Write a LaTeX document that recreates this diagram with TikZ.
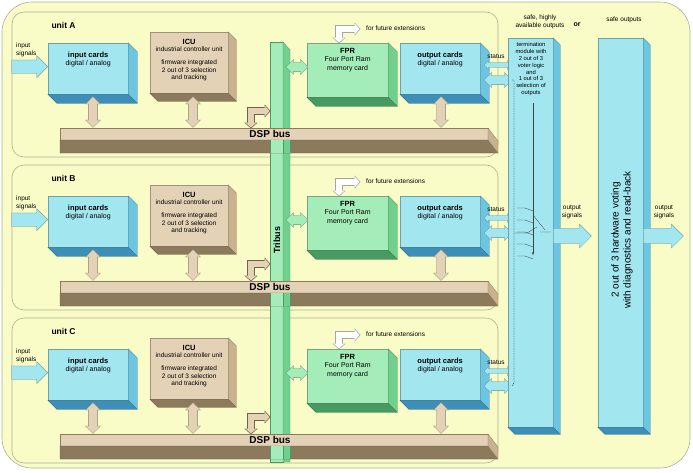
\documentclass[tikz,border=0pt]{standalone}
\usepackage{fontspec}
\setmainfont{Liberation Sans}
\usetikzlibrary{shapes.arrows,arrows.meta,calc}
\definecolor{bgY}{HTML}{FAFCC8}
\definecolor{bordG}{HTML}{A9B394}
\definecolor{bluF}{HTML}{A2E6F0}
\definecolor{bluS}{HTML}{6CC6E2}
\definecolor{bluB}{HTML}{3D8FB8}
\definecolor{tanF}{HTML}{E3D2B6}
\definecolor{tanS}{HTML}{C9B290}
\definecolor{tanB}{HTML}{8C7A5C}
\definecolor{grnF}{HTML}{A4EDB8}
\definecolor{grnS}{HTML}{72D08E}
\definecolor{grnB}{HTML}{479A62}
\newcommand\mysides[5]{%
 \fill[#3,draw=#3!70!black,line width=.3pt] (#1.north east) -- (#1.south east) -- ++(#2,#2) -- ($(#1.north east)+(#2,#2)$) -- cycle;
 \fill[#4,draw=#4!70!black,line width=.3pt] (#1.south west) -- (#1.south east) -- ++(#2,#2) -- ($(#1.south west)+(#2,#2)$) -- cycle;}
\begin{document}
\begin{tikzpicture}[x=1pt,y=-1pt,
 panel/.style={draw=bordG,line width=.6pt,rounded corners=12pt},
 face/.style={draw=#1!70!black,line width=.3pt,fill=#1,inner sep=0pt,align=center,anchor=north west,font=\fontsize{7}{8.2}\selectfont},
 darr/.style={double arrow,draw=#1!60!black,fill=#1,line width=.3pt,double arrow head extend=3pt,minimum width=15pt,inner sep=4pt},
 sarr/.style={single arrow,draw=#1!60!black,fill=#1,line width=.3pt,single arrow head extend=4pt,minimum width=24pt,inner sep=7pt},
 lbl/.style={font=\fontsize{6.5}{7.5}\selectfont,align=center,inner sep=0pt}]
\useasboundingbox (0,0) rectangle (693,472);
\fill[white] (0,0) rectangle (693,472);
\draw[panel,fill=bgY,rounded corners=30pt] (2,2) rectangle (690,468);
\foreach \o/\u in {0/A,153/B,306/C}{
 \draw[panel] (12,12+\o) rectangle (498,157+\o);
 \node[anchor=west,font=\bfseries\fontsize{8.5}{9}\selectfont] (lab\u) at (48,25+\o) {unit \u};
}
% tribus
\fill[grnF,draw=grnB,line width=.3pt] (270,42) rectangle (283,462);
\fill[grnS,draw=grnB,line width=.3pt] (283,42) -- (290,50) -- (290,462) -- (283,462) -- cycle;
\node[rotate=90,font=\bfseries\fontsize{9}{10}\selectfont] (tribus) at (277,240) {Tribus};
\foreach \o/\u in {0/A,153/B,306/C}{
 % input signals
 \node[lbl,anchor=west,align=left] (isig\u) at (16,50+\o) {input\\signals};
 \node[face=bluF,minimum width=80pt,minimum height=51pt] (in\u) at (48,43+\o) {};
 \mysides{in\u}{9}{bluS}{bluB}{}
 \node[font=\bfseries\fontsize{7.5}{9}\selectfont,align=center] at ($(in\u.north)+(0,17)$) {input cards\\[-1pt]\mdseries\fontsize{7}{8}\selectfont digital / analog};
 \node[sarr=bluF,minimum height=36pt,minimum width=22pt,inner sep=6pt,anchor=tip] (ia\u) at ($(in\u.west)+(0,-2)$) {};
 % ICU
 \node[face=tanF,minimum width=78pt,minimum height=61pt] (icu\u) at (150,32+\o) {};
 \mysides{icu\u}{8}{tanS}{tanB}{}
 \node[lbl,font=\fontsize{6.5}{7.6}\selectfont] at ($(icu\u.north)+(0,28)$) {\textbf{\fontsize{7.5}{8}\selectfont ICU}\\industrial controller unit\\[5pt]firmware integrated\\2 out of 3 selection\\and tracking};
 % FPR
 \node[face=grnF,minimum width=81pt,minimum height=54pt] (fpr\u) at (307,43+\o) {};
 \mysides{fpr\u}{9}{grnS}{grnB}{}
 \node[lbl,font=\fontsize{7}{8.2}\selectfont] at ($(fpr\u.north)+(0,17)$) {\textbf{\fontsize{7.5}{8}\selectfont FPR}\\Four Port Ram\\memory card};
 % output cards
 \node[face=bluF,minimum width=80pt,minimum height=51pt] (out\u) at (400,43+\o) {};
 \mysides{out\u}{9}{bluS}{bluB}{}
 \node[font=\bfseries\fontsize{7.5}{9}\selectfont,align=center] at ($(out\u.north)+(0,17)$) {output cards\\[-1pt]\mdseries\fontsize{7}{8}\selectfont digital / analog};
 % DSP bus
 \fill[tanF,draw=tanB,line width=.3pt] (60,128+\o) rectangle (488,140+\o);
 \fill[tanB,draw=tanB!70!black,line width=.3pt] (60,140+\o) -- (488,140+\o) -- (498,153+\o) -- (60,153+\o) -- cycle;
 \fill[tanS,draw=tanB,line width=.3pt] (488,128+\o) -- (498,141+\o) -- (498,153+\o) -- (488,140+\o) -- cycle;
 \node[font=\bfseries\fontsize{10}{11}\selectfont] (dsp\u) at (270,134+\o) {DSP bus};
 \fill[grnF] (270,140+\o) rectangle (283,153+\o);
 \fill[grnS] (283,140+\o) rectangle (290,153+\o);
 \draw[grnB,line width=.3pt] (270,140+\o) -- (270,153+\o) (283,140+\o) -- (283,153+\o) (290,140+\o) -- (290,153+\o);
 % vertical arrows
 \node[darr=tanF,rotate=90,minimum height=31pt] (a1\u) at (93,112+\o) {};
 \node[darr=tanF,rotate=90,minimum height=31pt] (a2\u) at (193,112+\o) {};
 \node[darr=tanF,rotate=90,minimum height=31pt] (a3\u) at (441,112+\o) {};
 \node[darr=grnF,minimum height=22pt] (a4\u) at (297,67+\o) {};
 % bent arrow bus-tribus
 \draw[tanB!80!black,line width=8.5pt,{Triangle[length=6pt,width=13pt]}-{Triangle[length=6pt,width=13pt]}] (251,128.5+\o) -- (251,111+\o) -- (270.5,111+\o);
 \draw[tanF,line width=6pt,{Triangle[length=5pt,width=11pt]}-{Triangle[length=5pt,width=11pt]}] (251,127.5+\o) -- (251,111+\o) -- (269.5,111+\o);
 % future extensions
 \draw[gray!70,line width=8.5pt,{Triangle[length=6pt,width=13pt]}-{Triangle[length=6pt,width=13pt]}] (339,43.5+\o) -- (339,29+\o) -- (360.5,29+\o);
 \draw[white,line width=6pt,{Triangle[length=5pt,width=11pt]}-{Triangle[length=5pt,width=11pt]}] (339,42.5+\o) -- (339,29+\o) -- (359.5,29+\o);
 \node[lbl,anchor=west] (fut\u) at (366,28+\o) {for future extensions};
 % status arrows
 \node[darr=bluF,minimum height=28pt,minimum width=9pt,inner sep=2pt,double arrow head extend=2pt] (st\u) at (498,65+\o) {};
 \node[lbl,anchor=south] at (496,59+\o) {status};
 \node[darr=bluF,minimum height=28pt,minimum width=15pt] (sb\u) at (498,80+\o) {};
}
% termination module
\node[face=bluF,minimum width=45pt,minimum height=389pt] (term) at (508,38) {};
\mysides{term}{7}{bluS}{bluB}{}
\node[lbl,font=\fontsize{5.8}{6.9}\selectfont,anchor=north] (termtxt) at (531,42) {termination\\module with\\2 out of 3\\voter logic\\and\\1 out of 3\\selection of\\outputs};
\draw[line width=.4pt,dash pattern=on 1.5pt off 1pt] (sbA.east) -- (514,80) -- (514,382) -- (sbC.east);
\draw[line width=.3pt,gray!50!black,-{Stealth[length=3pt]}] (533,103) -- (533,255);
\foreach \yy in {208,220,232,244,256}{\draw[line width=.3pt,gray!50!black] (517,\yy) -- (525,\yy) -- ++(8,3);}
\draw[line width=.3pt,gray!50!black] (533,215) -- (545,230) (540,232) -- (551,232);
\draw[line width=.3pt,gray!50!black] (514,233) -- (527,233) -- ++(10,-6);
\node[lbl,font=\fontsize{6.5}{7.6}\selectfont] (hdr1) at (540,22) {safe, highly\\available outputs};
\node[font=\bfseries\fontsize{7}{8}\selectfont] (orlbl) at (577,25) {or};
\node[lbl,font=\fontsize{6.5}{7.6}\selectfont] (hdr2) at (624,20) {safe outputs};
% hardware voting
\node[face=bluF,minimum width=45pt,minimum height=389pt] (hw) at (598,38) {};
\mysides{hw}{7}{bluS}{bluB}{}
\node[rotate=90,align=center,font=\fontsize{10}{12}\selectfont] (hwtxt) at (622,240) {2 out of 3 hardware voting\\with diagnostics and read-back};
% output signals
\node[sarr=bluF,minimum height=38pt,anchor=tail] (os1) at (term.east|-0,236) {};
\node[lbl,font=\fontsize{6.5}{7.6}\selectfont] at (572,212) {output\\signals};
\node[sarr=bluF,minimum height=40pt,anchor=tail] (os2) at (hw.east|-0,236) {};
\node[lbl,font=\fontsize{6.5}{7.6}\selectfont] at (664,212) {output\\signals};
\end{tikzpicture}
\end{document}
